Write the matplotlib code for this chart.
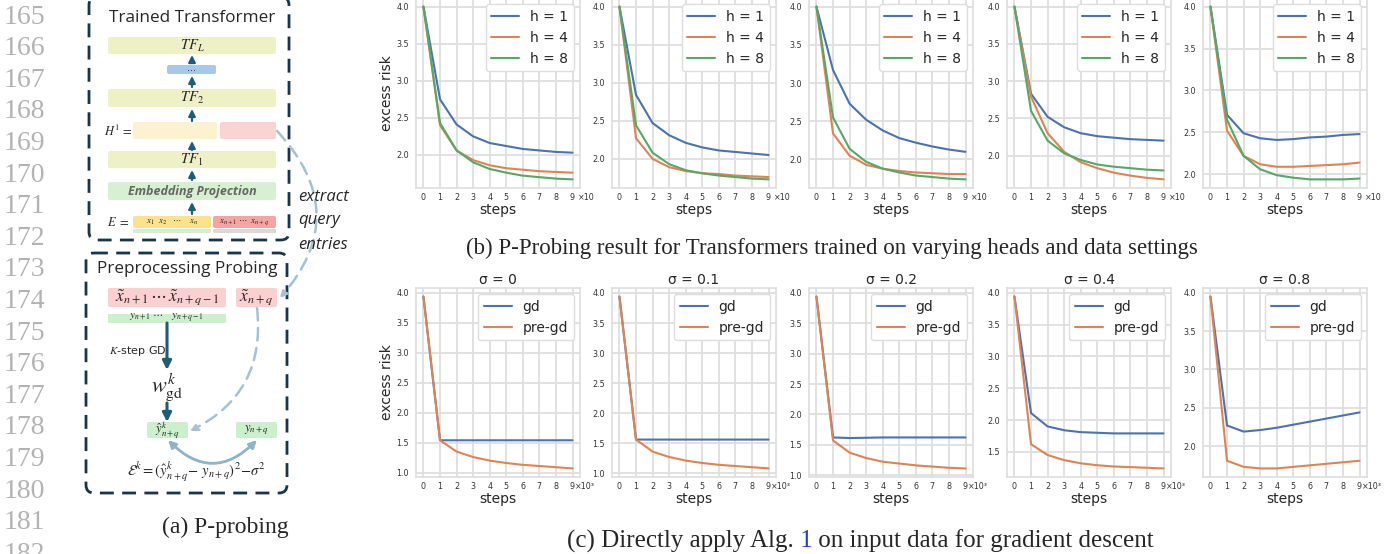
import matplotlib
matplotlib.use("Agg")
import matplotlib.pyplot as plt
import matplotlib.transforms as mtransforms
from matplotlib.patches import FancyBboxPatch, FancyArrowPatch
from matplotlib.ticker import MultipleLocator
import seaborn as sns

W, H = 1393, 554

# data
steps = list(range(10))
head_labels = ['h = 1', 'h = 4', 'h = 8']
h1_risk = [
    [4.0, 2.75, 2.41, 2.25, 2.16, 2.12, 2.08, 2.06, 2.04, 2.03],
    [4.0, 2.84, 2.47, 2.31, 2.21, 2.15, 2.11, 2.09, 2.07, 2.05],
    [4.0, 3.17, 2.73, 2.52, 2.38, 2.28, 2.22, 2.17, 2.13, 2.10],
    [4.0, 2.83, 2.52, 2.38, 2.30, 2.26, 2.24, 2.22, 2.21, 2.20],
    [4.0, 2.71, 2.49, 2.43, 2.41, 2.42, 2.44, 2.45, 2.47, 2.48],
]
h4_risk = [
    [4.0, 2.40, 2.06, 1.93, 1.86, 1.82, 1.80, 1.78, 1.77, 1.76],
    [4.0, 2.27, 2.00, 1.89, 1.84, 1.81, 1.80, 1.78, 1.77, 1.76],
    [4.0, 2.34, 2.05, 1.93, 1.88, 1.85, 1.83, 1.82, 1.81, 1.81],
    [4.0, 2.79, 2.30, 2.05, 1.91, 1.83, 1.77, 1.73, 1.70, 1.68],
    [4.0, 2.52, 2.22, 2.12, 2.09, 2.09, 2.10, 2.11, 2.12, 2.14],
]
h8_risk = [
    [4.0, 2.43, 2.06, 1.90, 1.81, 1.76, 1.72, 1.70, 1.68, 1.67],
    [4.0, 2.44, 2.08, 1.93, 1.85, 1.81, 1.78, 1.76, 1.74, 1.73],
    [4.0, 2.55, 2.14, 1.97, 1.88, 1.83, 1.79, 1.77, 1.75, 1.74],
    [4.0, 2.60, 2.20, 2.03, 1.94, 1.88, 1.85, 1.83, 1.81, 1.80],
    [4.0, 2.65, 2.22, 2.06, 1.99, 1.96, 1.94, 1.94, 1.94, 1.95],
]
sigmas = ['0', '0.1', '0.2', '0.4', '0.8']
gd_risk = [
    [3.94, 1.54, 1.54, 1.54, 1.54, 1.54, 1.54, 1.54, 1.54, 1.54],
    [3.94, 1.56, 1.56, 1.56, 1.56, 1.56, 1.56, 1.56, 1.56, 1.56],
    [3.94, 1.62, 1.61, 1.615, 1.62, 1.62, 1.62, 1.62, 1.62, 1.62],
    [3.94, 2.11, 1.90, 1.84, 1.81, 1.80, 1.79, 1.79, 1.79, 1.79],
    [3.95, 2.27, 2.19, 2.21, 2.24, 2.28, 2.32, 2.36, 2.40, 2.44],
]
pregd_risk = [
    [3.94, 1.54, 1.35, 1.26, 1.20, 1.16, 1.13, 1.11, 1.09, 1.07],
    [3.94, 1.56, 1.36, 1.27, 1.21, 1.17, 1.14, 1.12, 1.10, 1.08],
    [3.94, 1.57, 1.37, 1.28, 1.22, 1.19, 1.16, 1.14, 1.12, 1.11],
    [3.94, 1.62, 1.45, 1.37, 1.32, 1.29, 1.27, 1.26, 1.25, 1.24],
    [3.95, 1.81, 1.73, 1.71, 1.71, 1.73, 1.75, 1.77, 1.79, 1.81],
]

sns.set_theme(style="whitegrid")
plt.rcParams['font.family'] = ['DejaVu Sans']
plt.rcParams['mathtext.fontset'] = 'stix'
plt.rcParams['grid.color'] = '#dedede'
plt.rcParams['grid.linewidth'] = 1.3
plt.rcParams['axes.edgecolor'] = '#dedede'
colors = sns.color_palette("deep")

fig = plt.figure(figsize=(W / 100, H / 100), dpi=100)

# overlay for the diagram and captions, in pixel coordinates
ov = fig.add_axes([0, 0, 1, 1], zorder=0)
ov.set_xlim(0, W)
ov.set_ylim(H, 0)
ov.axis('off')


def px_axes(l, t, r, b):
    return fig.add_axes([l / W, 1 - b / H, (r - l) / W, (b - t) / H], zorder=2)


def style_axes(ax, offset, offx):
    ax.set_xticks(steps)
    ax.yaxis.set_major_locator(MultipleLocator(0.5))
    ax.tick_params(labelsize=5.8, colors='#333333', length=0)
    ax.tick_params(axis='x', pad=3.5)
    ax.tick_params(axis='y', pad=5)
    ax.set_xlabel('steps', fontsize=10, labelpad=1)
    tr = mtransforms.blended_transform_factory(ax.transData, ax.transAxes)
    ax.text(offx, -0.048, offset, transform=tr, fontsize=5.8, color='#333333',
            ha='left', va='center')


lefts = [416, 612, 809, 1007, 1203]

# row (b)
for i, l in enumerate(lefts):
    ax = px_axes(l, -2, l + 164, 188)
    for vals, lab, c in zip([h1_risk[i], h4_risk[i], h8_risk[i]], head_labels, colors[:3]):
        ax.plot(steps, vals, color=c, lw=1.5, label=lab)
    style_axes(ax, '×10', 9.3)
    if i == 0:
        ax.set_ylabel('excess risk', fontsize=10, labelpad=2)
    ax.legend(loc='upper right', fontsize=10, frameon=True, framealpha=1,
              edgecolor='#dddddd', borderaxespad=0.45, handlelength=2.0)

# row (c)
for i, l in enumerate(lefts):
    ax = px_axes(l, 288, l + 164, 477)
    ax.plot(steps, gd_risk[i], color=colors[0], lw=1.5, label='gd')
    ax.plot(steps, pregd_risk[i], color=colors[1], lw=1.5, label='pre-gd')
    style_axes(ax, '×10³', 9.12)
    ax.set_title('σ = ' + sigmas[i], fontsize=10, pad=3)
    if i == 0:
        ax.set_ylabel('excess risk', fontsize=10, labelpad=2)
    ax.legend(loc='upper right', fontsize=10, frameon=True, framealpha=1,
              edgecolor='#dddddd', borderaxespad=0.45, handlelength=2.0)

# line numbers
for k in range(18):
    ov.text(4, 17 + 31.6 * k, str(165 + k), fontsize=20, color='#b3b3b3',
            family='Liberation Serif', ha='left', va='center')

# ---- diagram (a) ----
dark = '#1d5c7a'
light = '#a3c2d3'


def box(x0, y0, x1, y1, fc, r=2):
    ov.add_patch(FancyBboxPatch((x0, y0), x1 - x0, y1 - y0,
                                boxstyle='round,pad=0,rounding_size=%g' % r,
                                fc=fc, ec='none'))


def up(x, y0, y1, lw=1.6, ms=10):
    ov.add_patch(FancyArrowPatch((x, y0), (x, y1), arrowstyle='-|>', mutation_scale=ms,
                                 color=dark, lw=lw, shrinkA=0, shrinkB=0))


for (x0, y0, x1, y1) in [(89, -3, 289, 240), (86, 253, 287, 493)]:
    ov.add_patch(FancyBboxPatch((x0, y0), x1 - x0, y1 - y0,
                                boxstyle='round,pad=0,rounding_size=8',
                                fc='none', ec='#1a3547', lw=2, ls=(0, (5, 3))))

sans = 'Open Sans'
ov.text(192, 18, 'Trained Transformer', fontsize=12.3, family=sans, ha='center', va='center')
box(108, 37, 276, 54, '#eef1c6')
ov.text(192, 45.5, r'$TF_L$', fontsize=10.5, ha='center', va='center')
up(192, 62, 55)
box(167, 65, 216, 74, '#a8c8e8')
ov.text(191.5, 68, '...', fontsize=7, ha='center', va='center')
up(192, 87, 76)
box(108, 89, 276, 107, '#eef1c6')
ov.text(192, 98, r'$TF_2$', fontsize=10.5, ha='center', va='center')
up(192, 121, 109)
ov.text(118, 131, r'$H^1\,=$', fontsize=9, ha='center', va='center')
box(133, 122, 217, 139, '#fdf2cf')
box(220, 122, 276, 139, '#fbd3d3')
up(192, 150, 141)
box(108, 151, 276, 168, '#eef1c6')
ov.text(192, 159.5, r'$TF_1$', fontsize=10.5, ha='center', va='center')
up(192, 180, 170)
box(108, 182, 276, 200, '#d8f0d2')
ov.text(192, 191, 'Embedding Projection', fontsize=9, family=sans, weight='bold',
        style='italic', color='#666666', ha='center', va='center')
up(192, 214, 202)
ov.text(118, 222, r'$E\ =$', fontsize=9, ha='center', va='center')
box(133, 216, 211, 228, '#fde28c')
box(213, 216, 276, 228, '#f5a3a3')
box(133, 229, 211, 233, '#d3efd0', r=1)
box(213, 229, 276, 233, '#d9d9d9', r=1)
ov.text(172, 222, r'$x_1\ \ x_2\ \ \ \cdots\ \ \ \ x_n$', fontsize=6.5, ha='center', va='center')
ov.text(244.5, 222, r'$x_{n+1}\ \cdots\ \ x_{n+q}$', fontsize=6.5, ha='center', va='center')

# extract query entries + dashed curve
ov.add_patch(FancyArrowPatch((277, 131), (280, 298), connectionstyle='arc3,rad=-0.45',
                             arrowstyle='-|>', mutation_scale=11, color=light, lw=1.8,
                             ls=(0, (5, 3)), shrinkA=0, shrinkB=0))
for txt, y in [('extract', 197), ('query', 220), ('entries', 245)]:
    ov.text(298, y, txt, fontsize=12, family=sans, style='italic', ha='left', va='center')

ov.text(187, 269, 'Preprocessing Probing', fontsize=12.3, family=sans, ha='center', va='center')
box(108, 288, 226, 307, '#fad0d0')
box(236, 288, 277, 307, '#fad0d0')
ov.text(167, 297, r'$\tilde{x}_{n+1}\,\cdots\,\tilde{x}_{n+q-1}$', fontsize=12.5, ha='center', va='center')
ov.text(256.5, 297, r'$\tilde{x}_{n+q}$', fontsize=12.5, ha='center', va='center')
box(108, 314, 226, 323, '#ccf0cc', r=1)
ov.text(167, 318.5, r'$y_{n+1}\ \cdots\ \ \ y_{n+q-1}$', fontsize=8, ha='center', va='center')
up(167, 323, 370, lw=2.2, ms=13)
ov.text(138, 351, r'$K$-step GD', fontsize=8, ha='center', va='center')
ov.text(167, 387, r'$w_{\mathrm{gd}}^{k}$', fontsize=16, ha='center', va='center')
up(167, 403, 422, lw=2.2, ms=13)
box(147, 422, 188, 438, '#ccf0cc')
box(236, 422, 277, 438, '#ccf0cc')
ov.text(167.5, 430, r'$\hat{y}^k_{n+q}$', fontsize=9, ha='center', va='center')
ov.text(256.5, 430, r'$y_{n+q}$', fontsize=9, ha='center', va='center')
ov.add_patch(FancyArrowPatch((257, 308), (190, 431), connectionstyle='arc3,rad=-0.35',
                             arrowstyle='-|>', mutation_scale=11, color=light, lw=1.8,
                             ls=(0, (5, 3)), shrinkA=0, shrinkB=0))
ov.add_patch(FancyArrowPatch((168, 440), (257, 440), connectionstyle='arc3,rad=0.5',
                             arrowstyle='<|-|>', mutation_scale=11, color='#8fb3c8', lw=2,
                             shrinkA=0, shrinkB=0))
ov.text(196, 472, r'$\mathcal{E}^k = (\hat{y}^k_{n+q}\!-\, y_{n+q})^2\!-\!\sigma^2$',
        fontsize=10.5, ha='center', va='center')

# captions
serif = 'Liberation Serif'
ov.text(225, 527, '(a) P-probing', fontsize=17, family=serif, ha='center', va='center')
ov.text(832, 248, '(b) P-Probing result for Transformers trained on varying heads and data settings',
        fontsize=16.5, family=serif, ha='center', va='center')
t1 = ov.text(567, 541, '(c) Directly apply Alg.', fontsize=18, family=serif, ha='left', va='center')
t2 = ov.annotate(' 1', xy=(1, 0.5), xycoords=t1, fontsize=18, family=serif, color='#2a3fbf',
                 ha='left', va='center')
ov.annotate(' on input data for gradient descent', xy=(1, 0.5), xycoords=t2, fontsize=18,
            family=serif, ha='left', va='center')

fig.savefig('out.png', dpi=100)
